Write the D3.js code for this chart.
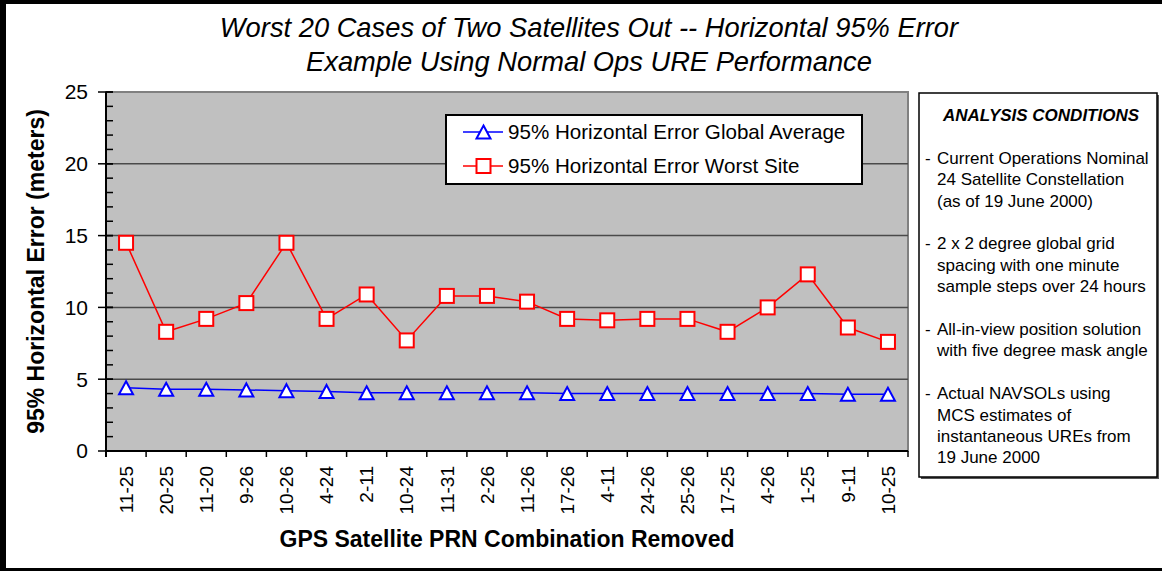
<meta charset="UTF-8">
<head>
  <script src="https://d3js.org/d3.v7.min.js"></script>
  <style>
    body { margin: 0; background: #fff; }
    text { font-family: Arial, "Liberation Sans", sans-serif; }
  </style>
</head>
<body>
  <svg id="svg" width="1162" height="571"></svg>
  <script>
    // data
    const combos = ["11-25", "20-25", "11-20", "9-26", "10-26", "4-24", "2-11", "10-24", "11-31", "2-26",
                    "11-26", "17-26", "4-11", "24-26", "25-26", "17-25", "4-26", "1-25", "9-11", "10-25"];
    const globalAvg = [4.4, 4.3, 4.3, 4.25, 4.2, 4.15, 4.05, 4.05, 4.05, 4.05,
                       4.05, 4.0, 4.0, 4.0, 4.0, 4.0, 4.0, 4.0, 3.95, 3.95];
    const worstSite = [14.5, 8.3, 9.2, 10.3, 14.5, 9.2, 10.9, 7.7, 10.8, 10.8,
                       10.4, 9.2, 9.1, 9.2, 9.2, 8.3, 10.0, 12.3, 8.6, 7.6];
    const yTicks = [0, 5, 10, 15, 20, 25];
    const seriesNames = ["95% Horizontal Error Global Average", "95% Horizontal Error Worst Site"];
    const conditions = [
      ["Current Operations Nominal", "24 Satellite Constellation", "(as of 19 June 2000)"],
      ["2 x 2 degree global grid", "spacing with one minute", "sample steps over 24 hours"],
      ["All-in-view position solution", "with five degree mask angle"],
      ["Actual NAVSOLs using", "MCS estimates of", "instantaneous UREs from", "19 June 2000"]
    ];

    const svg = d3.select("#svg");
    const pLeft = 106, pRight = 908, pTop = 92, pBottom = 451;

    const x = d3.scaleBand().domain(combos).range([pLeft, pRight]);
    const y = d3.scaleLinear().domain([0, 25]).range([pBottom, pTop]);

    // page frame
    svg.append("rect").attr("x", 0).attr("y", 0).attr("width", 1162).attr("height", 4).attr("fill", "#000");
    svg.append("rect").attr("x", 0).attr("y", 0).attr("width", 6).attr("height", 571).attr("fill", "#000");
    svg.append("rect").attr("x", 0).attr("y", 568).attr("width", 1162).attr("height", 3).attr("fill", "#000");

    // title
    const title = svg.append("text").attr("x", 589).attr("text-anchor", "middle")
      .style("font-size", "27.3px").style("font-style", "italic");
    title.append("tspan").attr("x", 589).attr("y", 37).text("Worst 20 Cases of Two Satellites Out -- Horizontal 95% Error");
    title.append("tspan").attr("x", 589).attr("y", 71).text("Example Using Normal Ops URE Performance");

    // plot area
    svg.append("rect").attr("x", pLeft).attr("y", pTop).attr("width", pRight - pLeft).attr("height", pBottom - pTop)
      .attr("fill", "#c0c0c0").attr("stroke", "#808080").attr("stroke-width", 2);

    svg.append("g").selectAll("line").data(yTicks.filter(d => d > 0 && d < 25)).join("line")
      .attr("x1", pLeft).attr("x2", pRight)
      .attr("y1", d => y(d)).attr("y2", d => y(d))
      .attr("stroke", "#4a4a4a").attr("stroke-width", 1.5);

    // y axis
    const yAxis = svg.append("g");
    yAxis.append("line").attr("x1", pLeft).attr("x2", pLeft).attr("y1", pTop).attr("y2", pBottom + 6)
      .attr("stroke", "#000").attr("stroke-width", 2);
    yAxis.selectAll(".minor").data(d3.range(0, 26)).join("line").attr("class", "minor")
      .attr("x1", pLeft).attr("x2", pLeft + 7)
      .attr("y1", d => y(d)).attr("y2", d => y(d))
      .attr("stroke", "#000").attr("stroke-width", 1.5);
    yAxis.selectAll(".major").data(yTicks).join("line").attr("class", "major")
      .attr("x1", pLeft - 8).attr("x2", pLeft + 7)
      .attr("y1", d => y(d)).attr("y2", d => y(d))
      .attr("stroke", "#000").attr("stroke-width", 1.5);
    yAxis.selectAll("text").data(yTicks).join("text")
      .attr("x", 88).attr("y", d => y(d)).attr("dy", "0.35em")
      .attr("text-anchor", "end").style("font-size", "21px")
      .text(d => d);

    svg.append("text").attr("transform", "translate(44," + ((pTop + pBottom) / 2) + ") rotate(-90)")
      .attr("text-anchor", "middle").style("font-size", "23px").style("font-weight", "bold")
      .text("95% Horizontal Error (meters)");

    // x axis
    const xAxis = svg.append("g");
    xAxis.append("line").attr("x1", pLeft).attr("x2", pRight).attr("y1", pBottom).attr("y2", pBottom)
      .attr("stroke", "#000").attr("stroke-width", 2);
    xAxis.selectAll(".tick").data(combos.concat([null])).join("line").attr("class", "tick")
      .attr("x1", (d, i) => pLeft + i * x.step()).attr("x2", (d, i) => pLeft + i * x.step())
      .attr("y1", pBottom).attr("y2", pBottom + 6)
      .attr("stroke", "#000").attr("stroke-width", 1.5);
    xAxis.selectAll("text").data(combos).join("text")
      .attr("transform", d => "translate(" + (x(d) + x.bandwidth() / 2) + ",466) rotate(-90)")
      .attr("dy", "0.35em").attr("text-anchor", "end").style("font-size", "19px")
      .text(d => d);

    svg.append("text").attr("x", (pLeft + pRight) / 2).attr("y", 547).attr("text-anchor", "middle")
      .style("font-size", "23px").style("font-weight", "bold")
      .text("GPS Satellite PRN Combination Removed");

    // series
    const cx = i => x(combos[i]) + x.bandwidth() / 2;
    const line = d3.line().x((d, i) => cx(i)).y(d => y(d));
    const tri = "M0,-6.5L7,6.5L-7,6.5Z";

    svg.append("path").datum(worstSite).attr("d", line)
      .attr("fill", "none").attr("stroke", "#ff0000").attr("stroke-width", 1.5);
    svg.append("path").datum(globalAvg).attr("d", line)
      .attr("fill", "none").attr("stroke", "#0000ff").attr("stroke-width", 1.5);

    svg.append("g").selectAll("rect").data(worstSite).join("rect")
      .attr("x", (d, i) => cx(i) - 7).attr("y", d => y(d) - 7)
      .attr("width", 14).attr("height", 14)
      .attr("fill", "#fff").attr("stroke", "#ff0000").attr("stroke-width", 2);
    svg.append("g").selectAll("path").data(globalAvg).join("path")
      .attr("transform", (d, i) => "translate(" + cx(i) + "," + y(d) + ")")
      .attr("d", tri)
      .attr("fill", "#fff").attr("stroke", "#0000ff").attr("stroke-width", 2);

    // legend
    const lg = svg.append("g");
    lg.append("rect").attr("x", 446).attr("y", 115).attr("width", 416).attr("height", 69)
      .attr("fill", "#fff").attr("stroke", "#000").attr("stroke-width", 2);
    const lgY = [132, 166], lgCol = ["#0000ff", "#ff0000"];
    seriesNames.forEach((name, i) => {
      lg.append("line").attr("x1", 463).attr("x2", 503).attr("y1", lgY[i]).attr("y2", lgY[i])
        .attr("stroke", lgCol[i]).attr("stroke-width", 1.5);
      if (i === 0) {
        lg.append("path").attr("transform", "translate(483.5," + lgY[i] + ")").attr("d", tri)
          .attr("fill", "#fff").attr("stroke", lgCol[i]).attr("stroke-width", 2);
      } else {
        lg.append("rect").attr("x", 476.5).attr("y", lgY[i] - 7).attr("width", 14).attr("height", 14)
          .attr("fill", "#fff").attr("stroke", lgCol[i]).attr("stroke-width", 2);
      }
      lg.append("text").attr("x", 508).attr("y", lgY[i]).attr("dy", "0.35em")
        .style("font-size", "20.6px").text(name);
    });

    // analysis conditions box (text laid out on rows, blank row between paragraphs)
    const box = svg.append("g");
    box.append("rect").attr("x", 921).attr("y", 95).attr("width", 238).attr("height", 384).attr("fill", "#555");
    box.append("rect").attr("x", 919).attr("y", 93).attr("width", 238).attr("height", 384)
      .attr("fill", "#fff").attr("stroke", "#000").attr("stroke-width", 1.5);
    const rowY = r => 121 + 21.4 * r;
    box.append("text").attr("x", 1041).attr("y", rowY(0)).attr("text-anchor", "middle")
      .style("font-size", "17px").style("font-weight", "bold").style("font-style", "italic")
      .text("ANALYSIS CONDITIONS");
    let row = 2;
    conditions.forEach(par => {
      box.append("text").attr("x", 925).attr("y", rowY(row)).style("font-size", "17px").text("-");
      par.forEach(t => {
        box.append("text").attr("x", 937).attr("y", rowY(row)).style("font-size", "17px").text(t);
        row++;
      });
      row++;
    });
  </script>
</body>
